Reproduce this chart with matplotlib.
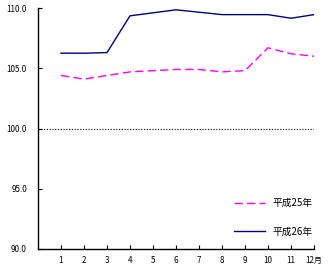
import matplotlib
matplotlib.use("Agg")
import matplotlib.pyplot as plt

plt.rcParams['font.family'] = ['Noto Sans CJK JP', 'DejaVu Sans']

months = [1, 2, 3, 4, 5, 6, 7, 8, 9, 10, 11, 12]
month_labels = ['1', '2', '3', '4', '5', '6', '7', '8', '9', '10', '11', '12月']
h25 = [104.4, 104.1, 104.4, 104.7, 104.8, 104.9, 104.9, 104.7, 104.8, 106.7, 106.2, 106.0]
h26 = [106.25, 106.25, 106.3, 109.35, 109.6, 109.85, 109.65, 109.45, 109.45, 109.45, 109.15, 109.45]
yticks = [90, 95, 100, 105, 110]

fig = plt.figure(figsize=(3.32, 2.69), dpi=100)
ax = fig.add_axes([38/332, 1-249/269, (314-38)/332, (249-8)/269])

ax.plot(months, h25, color='#FF00FF', lw=1.0, dashes=(6, 3), label='平成25年')
ax.plot(months, h26, color='#000080', lw=1.0, label='平成26年')
ax.axhline(100, color='black', lw=0.8, ls=(0, (1, 1.5)))

ax.set_xlim(0, 12)
ax.set_ylim(90, 110)
ax.set_xticks(months)
ax.set_xticklabels(month_labels, fontsize=5.8)
ax.set_yticks(yticks)
ax.set_yticklabels([f'{v:.1f}' for v in yticks], fontsize=5.8)
ax.tick_params(axis='x', direction='in', length=3, width=0.8, pad=5)
ax.tick_params(axis='y', direction='in', length=3, width=0.8, pad=8)
for s in ['top', 'right']:
    ax.spines[s].set_visible(False)
for s in ['left', 'bottom']:
    ax.spines[s].set_linewidth(1.0)

ax.legend(loc='lower right', bbox_to_anchor=(1.025, 0.015), frameon=False, fontsize=7,
          handlelength=3.2, handletextpad=0.7, labelspacing=1.9)

fig.savefig('out.png', dpi=100)
